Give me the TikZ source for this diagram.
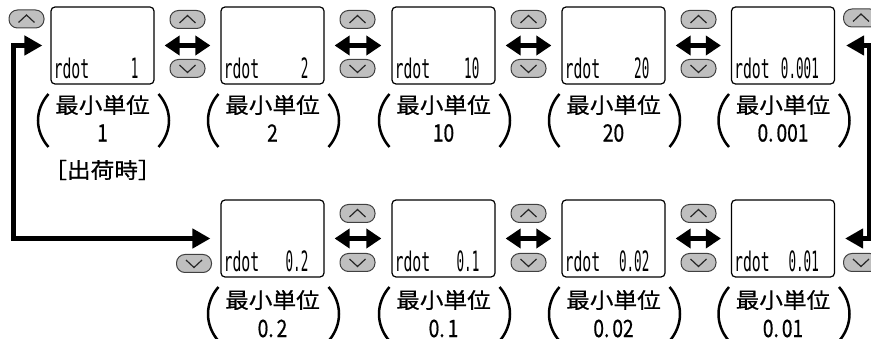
\documentclass[tikz,border=0pt]{standalone}
\usepackage{fontspec}
\usetikzlibrary{arrows.meta}
\newfontfamily\jpfont[FakeStretch=1.1,FakeBold=0.6]{Noto Sans CJK JP}
\newfontfamily\jpnum[FakeStretch=0.8,FakeBold=0.6]{Noto Sans CJK JP}
\newfontfamily\segfont[FakeStretch=0.55]{DejaVu Sans Mono}
\newfontfamily\segnum[FakeStretch=0.45]{DejaVu Sans Mono}
\newcommand\mybtnup[2]{\node[btn] (#1) at (#2) {};
  \draw[chev] ([xshift=-8pt,yshift=-3.5pt]#1.center) -- ([yshift=4pt]#1.center) -- ([xshift=8pt,yshift=-3.5pt]#1.center);}
\newcommand\mybtndn[2]{\node[btn] (#1) at (#2) {};
  \draw[chev] ([xshift=-8pt,yshift=3.5pt]#1.center) -- ([yshift=-4pt]#1.center) -- ([xshift=8pt,yshift=3.5pt]#1.center);}
\begin{document}
\begin{tikzpicture}[x=1pt,y=-1pt,
  lcd/.style={draw, line width=1.2pt, rounded corners=4pt, minimum width=103pt, minimum height=77pt, inner sep=0pt},
  btn/.style={draw=black!75, fill=black!25, line width=1pt, rounded corners=8.5pt, minimum width=35pt, minimum height=18pt, inner sep=0pt},
  chev/.style={line width=1.2pt, draw=black!85},
  dbl/.style={line width=5pt, {Triangle[length=15pt,width=19pt]}-{Triangle[length=15pt,width=19pt]}},
  twohead/.style={line width=5pt, line join=miter, {Triangle[length=18pt,width=19pt]}-{Triangle[length=18pt,width=19pt]}},
  lbl/.style={font=\jpfont\fontsize{21.5}{23}\selectfont, inner sep=0pt},
  num/.style={font=\jpnum\fontsize{24}{25}\selectfont, inner sep=0pt},
  segw/.style={font=\segfont\fontsize{27}{27}\selectfont, inner sep=0pt, anchor=base west},
  segn/.style={font=\segnum\fontsize{28}{28}\selectfont, inner sep=0pt, anchor=base east},
  paren/.style={line width=2.5pt}]
\useasboundingbox (0,0) rectangle (871,339);

% displays, labels
\foreach \n/\x/\y/\v/\ly/\ny/\pt/\pb/\lab in {
  1/102.5/45.5/1/105/133/94/147/1,
  2/272.5/45.5/2/105/133/94/147/2,
  3/443.5/45.5/10/105/133/94/147/10,
  4/613.5/45.5/20/105/133/94/147/20,
  5/783/45.5/0.001/105/133/94/147/{0.\kern3pt 001},
  6/272.5/238.5/0.2/300/328.5/287/341/{0.\kern3pt 2},
  7/443.5/238.5/0.1/300/328.5/287/341/{0.\kern3pt 1},
  8/613.5/238.5/0.02/300/328.5/287/341/{0.\kern3pt 02},
  9/783/238.5/0.01/300/328.5/287/341/{0.\kern3pt 01}}{
  \node[lcd] (d\n) at (\x,\y) {};
  \node[segw] (r\n) at ([xshift=3pt,yshift=6pt]d\n.south west) {rdot};
  \node[segn] (v\n) at ([xshift=-16pt,yshift=6pt]d\n.south east) {\v};
  \node[lbl] (l\n) at (\x,\ly) {最小単位};
  \node[num] (n\n) at (\x,\ny) {\lab};
  \draw[paren] (\x-54,\pt) .. controls (\x-68,\pt+16) and (\x-68,\pb-16) .. (\x-54,\pb);
  \draw[paren] (\x+56,\pt) .. controls (\x+70,\pt+16) and (\x+70,\pb-16) .. (\x+56,\pb);
}
\node[lbl] (ship) at (102.5,170) {［出荷時］};

% buttons
\mybtnup{ul}{26.5,19}
\mybtnup{ur}{861,18}
\mybtndn{dl}{194,263.5}
\mybtndn{dr}{861,262.5}
\foreach \i/\x in {1/187.5,2/357.5,3/528.5,4/698.5}{
  \mybtnup{tu\i}{\x,19.5}
  \mybtndn{td\i}{\x,68.5}
}
\foreach \i/\x in {2/357.5,3/528.5,4/698.5}{
  \mybtnup{bu\i}{\x,213.5}
  \mybtndn{bd\i}{\x,262.5}
}

% arrows
\foreach \a/\b in {1/2,2/3,3/4,4/5,6/7,7/8,8/9}{
  \draw[dbl] ([xshift=10pt]d\a.east) -- ([xshift=-10pt]d\b.west);
}
\coordinate (lx) at (13,140);
\coordinate (rx) at (869,140);
\draw[twohead] ([xshift=-8pt]d1.west) -| (lx) |- ([xshift=-10pt]d6.west);
\draw[twohead] ([xshift=11pt]d5.east) -| (rx) |- ([xshift=10pt]d9.east);
\end{tikzpicture}
\end{document}
